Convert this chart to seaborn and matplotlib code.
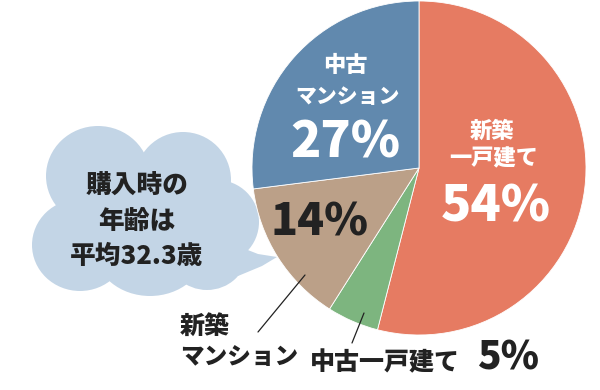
import matplotlib
matplotlib.use("Agg")
import matplotlib.pyplot as plt
import seaborn as sns
from matplotlib.patches import Ellipse, Polygon

# ---- data ----
categories = ["新築一戸建て", "中古一戸建て", "新築マンション", "中古マンション"]
values = [54, 5, 14, 27]
colors = ["#E67B62", "#7DB57F", "#BBA088", "#6189AE"]
bubble_lines = ["購入時の", "年齢は", "平均32.3歳"]

sns.set_theme(style="white")
plt.rcParams["font.family"] = ["Noto Sans CJK JP", "DejaVu Sans"]

W, H = 600, 390
fig = plt.figure(figsize=(6, 3.9), dpi=100)
ax = fig.add_axes([0, 0, 1, 1])

def Y(py):
    return H - py

FW = "black"

# ---- cloud bubble ----
cloud_col = "#C3D5E6"
for (cx, cy, w, h) in [(98, 176, 104, 100), (183, 180, 96, 96), (217, 222, 84, 84),
                       (80, 245, 96, 92), (150, 250, 110, 92), (207, 252, 80, 76),
                       (140, 215, 150, 120)]:
    ax.add_patch(Ellipse((cx, Y(cy)), w, h, color=cloud_col, lw=0, zorder=1))
ax.add_patch(Polygon([(235, Y(245)), (258, Y(254)), (277, Y(257)), (262, Y(266)), (238, Y(276))],
                     closed=True, color=cloud_col, lw=0, zorder=1))
for i, line in enumerate(bubble_lines):
    ax.text(137, Y(186 + 35 * i), line, ha="center", va="center", fontsize=18.5,
            fontweight=FW, color="#222222", zorder=3)

# ---- pie ----
wedges, _ = ax.pie(values, colors=colors, startangle=90, counterclock=False,
                   center=(419, Y(168)), radius=167,
                   wedgeprops=dict(edgecolor="white", linewidth=0.6))
ax.set_xlim(0, W)
ax.set_ylim(0, H)
ax.set_aspect("equal")
ax.axis("off")

pct = [f"{v}%" for v in values]

# 新築一戸建て (inside, white)
ax.text(492, Y(131), "新築", ha="center", va="center", fontsize=16, fontweight=FW, color="white")
ax.text(494, Y(159), "一戸建て", ha="center", va="center", fontsize=16, fontweight=FW, color="white")
ax.text(496, Y(206), pct[0], ha="center", va="center", fontsize=36, fontweight=FW, color="white")

# 中古マンション (inside, white)
ax.text(345, Y(66), "中古", ha="center", va="center", fontsize=16, fontweight=FW, color="white")
ax.text(347, Y(97), "マンション", ha="center", va="center", fontsize=15, fontweight=FW, color="white")
ax.text(345, Y(142), pct[3], ha="center", va="center", fontsize=36, fontweight=FW, color="white")

# 新築マンション 14% (inside, dark) + outside label
ax.text(320, Y(222), pct[2], ha="center", va="center", fontsize=32, fontweight=FW, color="#222222")
ax.plot([258, 305], [Y(332), Y(275)], color="#222222", lw=0.9)
ax.text(180, Y(326), "新築", ha="left", va="center", fontsize=18, fontweight=FW, color="#222222")
ax.text(180, Y(357), "マンション", ha="left", va="center", fontsize=17, fontweight=FW, color="#222222")

# 中古一戸建て 5% (outside)
ax.plot([352, 364], [Y(343), Y(313)], color="#222222", lw=0.9)
ax.text(310, Y(362), "中古一戸建て", ha="left", va="center", fontsize=18, fontweight=FW, color="#222222")
ax.text(477, Y(358), pct[1], ha="left", va="center", fontsize=28, fontweight=FW, color="#222222")

fig.savefig("out.png", dpi=100)
